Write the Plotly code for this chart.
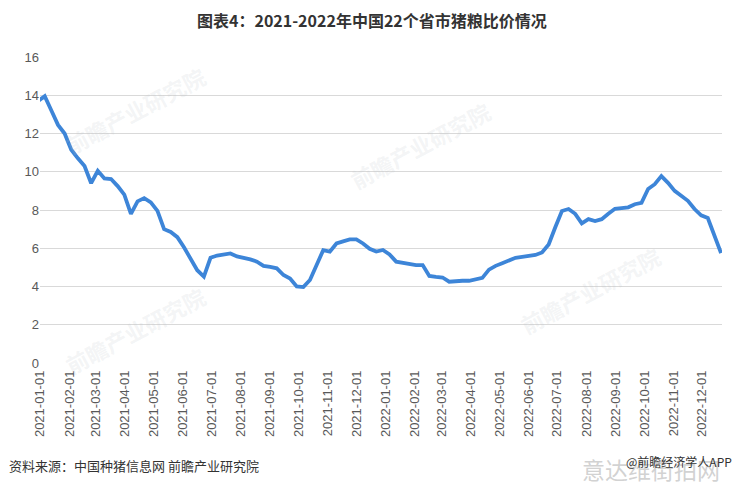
import datetime as dt
import plotly.graph_objects as go

# weekly pig-grain price ratio, 22 provinces
start = dt.date(2020, 12, 30)
values = [
    13.70, 13.95, 13.20, 12.45, 12.00, 11.15, 10.70, 10.30, 9.40, 10.05,
    9.65, 9.62, 9.25, 8.80, 7.80, 8.45, 8.62, 8.40, 7.95, 7.00,
    6.85, 6.58, 6.05, 5.45, 4.85, 4.52, 5.50, 5.62, 5.68, 5.73,
    5.57, 5.50, 5.42, 5.30, 5.08, 5.02, 4.95, 4.60, 4.42, 4.00,
    3.97, 4.34, 5.12, 5.90, 5.82, 6.25, 6.36, 6.46, 6.46, 6.25,
    5.97, 5.83, 5.91, 5.68, 5.30, 5.24, 5.14, 5.12, 5.12, 4.55,
    4.50, 4.47, 4.25, 4.29, 4.30, 4.30, 4.38, 4.45, 4.88, 5.08,
    5.22, 5.37, 5.50, 5.55, 5.58, 5.65, 5.78, 6.20, 7.10, 7.95,
    8.05, 7.80, 7.30, 7.52, 7.42, 7.52, 7.80, 8.06, 8.10, 8.14,
    8.30, 8.38, 9.10, 9.35, 9.77, 9.42, 9.00, 8.72, 8.48, 8.05,
    7.72, 7.58, 6.60, 5.75,
]
dates = [start + dt.timedelta(days=7 * i) for i in range(len(values))]

title_text = "图表4：2021-2022年中国22个省市猪粮比价情况"
source_text = "资料来源：中国种猪信息网 前瞻产业研究院"
brand_text = "@前瞻经济学人APP"
site_mark = "意达维街拍网"
y_ticks = [0, 2, 4, 6, 8, 10, 12, 14, 16]

W, H = 735, 487
ML, MR, MT, MB = 40, 13, 57, 124
pw, ph = W - ML - MR, H - MT - MB


def px(x):
    return (x - ML) / pw


def py(y):
    return (H - MB - y) / ph


font_cjk = "Noto Sans CJK SC"

fig = go.Figure()
fig.add_trace(go.Scatter(
    x=dates, y=values, mode="lines",
    line=dict(color="#3d85d8", width=3.8),
    hoverinfo="x+y",
))

fig.update_layout(
    width=W, height=H,
    margin=dict(l=ML, r=MR, t=MT, b=MB, autoexpand=False),
    paper_bgcolor="white", plot_bgcolor="white",
    showlegend=False,
    font=dict(family="Liberation Sans, Arial, sans-serif", color="#595959", size=12),
    xaxis=dict(
        type="date", automargin=False,
        range=["2021-01-01", "2022-12-22"],
        tickmode="linear", tick0="2021-01-01", dtick="M1",
        tickformat="%Y-%m-%d", tickangle=-90,
        showgrid=False, showline=False, zeroline=False,
        ticks="", ticklabelstandoff=4,
        tickfont=dict(size=13, color="#595959"),
    ),
    yaxis=dict(
        automargin=False,
        range=[0, 16], tickvals=y_ticks,
        showgrid=True, gridcolor="#d9d9d9", gridwidth=1,
        zeroline=False, showline=False, ticks="",
        tickfont=dict(size=13, color="#595959"),
    ),
)

# faint research-institute watermarks
for (wx, wy) in [(135, 110), (420, 145), (590, 290), (135, 330)]:
    fig.add_annotation(
        x=px(wx), y=py(wy), xref="paper", yref="paper", text="<b>前瞻产业研究院</b>",
        showarrow=False, textangle=-28, xanchor="center", yanchor="middle",
        font=dict(family=font_cjk, size=22, color="rgba(190,195,200,0.18)"),
    )

fig.add_annotation(
    x=px(372), y=py(20), xref="paper", yref="paper", showarrow=False,
    xanchor="center", yanchor="middle",
    text="<b>" + title_text + "</b>",
    font=dict(family=font_cjk, size=16, color="#333333"),
)
fig.add_annotation(
    x=px(580), y=py(469), xref="paper", yref="paper", showarrow=False,
    xanchor="left", yanchor="middle", text=site_mark,
    font=dict(family=font_cjk, size=23, color="rgba(190,190,190,0.7)"),
)
fig.add_annotation(
    x=px(7), y=py(465), xref="paper", yref="paper", showarrow=False,
    xanchor="left", yanchor="middle", text=source_text,
    font=dict(family=font_cjk, size=13, color="#333333"),
)
fig.add_annotation(
    x=px(734), y=py(461), xref="paper", yref="paper", showarrow=False,
    xanchor="right", yanchor="middle", text=brand_text,
    font=dict(family=font_cjk, size=12, color="#333333"),
)

fig.write_html(
    "out.html",
    config={"displayModeBar": False},
    post_script="document.body.style.margin='0';document.body.style.overflow='hidden';",
)
